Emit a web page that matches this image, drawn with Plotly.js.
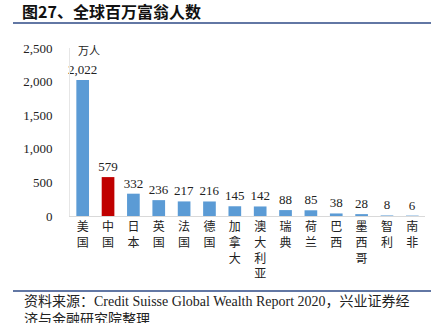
<!DOCTYPE html>
<html><head><meta charset="utf-8">
<script src="https://cdn.plot.ly/plotly-3.0.1.min.js"></script>
<style>html,body{margin:0;padding:0;background:#fff;}#c{width:431px;height:323px;}</style>
</head><body><div id="c"></div>
<script>
const countries = ["美国","中国","日本","英国","法国","德国","加拿大","澳大利亚","瑞典","荷兰","巴西","墨西哥","智利","南非"];
const values = [2022,579,332,236,217,216,145,142,88,85,38,28,8,6];
const labels = ["2,022","579","332","236","217","216","145","142","88","85","38","28","8","6"];
const yTicks = [0,500,1000,1500,2000,2500];
const yTickText = ["0","500","1,000","1,500","2,000","2,500"];

const W=431,H=323,L=70,R=6,T=48,B=107;
const pw=W-L-R, ph=H-T-B;
const px=x=>(x-L)/pw, py=y=>(H-B-y)/ph;

const colors = countries.map(c=>c==="中国"?"#C00000":"#5B9BD5");
const tickText = countries.map(c=>c.split("").join("<br>"));

const trace = {
  type:"bar", x:countries, y:values, marker:{color:colors},
  width:0.5, text:labels, textposition:"outside", cliponaxis:false, constraintext:"none",
  textfont:{family:"Liberation Serif, Times New Roman, serif", size:13, color:"#222"},
  hoverinfo:"none"
};
const layout = {
  width:W, height:H, margin:{l:L,r:R,t:T,b:B},
  paper_bgcolor:"#fff", plot_bgcolor:"#fff", showlegend:false,
  title:{text:"<b>图27、全球百万富翁人数</b>", xref:"container", yref:"container",
    x:22/W, xanchor:"left", y:1-12/H, yanchor:"middle",
    font:{family:"Noto Sans CJK SC, sans-serif", size:16, color:"#111"}},
  xaxis:{type:"category", tickvals:countries, ticktext:tickText, showline:true, linecolor:"#d9d9d9",
    linewidth:1, ticks:"", showgrid:false, zeroline:false, tickangle:0,
    tickfont:{family:"Noto Sans CJK SC, serif", size:12, color:"#222"}},
  yaxis:{range:[0,2500], tickvals:yTicks, ticktext:yTickText, showgrid:false, zeroline:false,
    showline:true, linecolor:"#e6e6e6", ticks:"", ticklabelstandoff:14,
    tickfont:{family:"Liberation Serif, Times New Roman, serif", size:13, color:"#222"}},
  shapes:[
    {type:"line", xref:"paper", yref:"paper", x0:px(13), x1:px(431), y0:py(23), y1:py(23), line:{color:"#2E4A86", width:1.5}},
    {type:"line", xref:"paper", yref:"paper", x0:px(13), x1:px(431), y0:py(291), y1:py(291), line:{color:"#2E4A86", width:1.5}}
  ],
  annotations:[
    {text:"万人", xref:"paper", yref:"paper", x:px(89), y:py(50), xanchor:"center", yanchor:"middle", showarrow:false,
      font:{family:"Noto Sans CJK SC, serif", size:11, color:"#222"}},
    {text:"资料来源：Credit Suisse Global Wealth Report 2020，兴业证券经<br>济与金融研究院整理", xref:"paper", yref:"paper",
      x:px(22), y:py(292), xanchor:"left", yanchor:"top", align:"left", showarrow:false,
      font:{family:"Liberation Serif, Noto Sans CJK SC, serif", size:14, color:"#222"}}
  ]
};
Plotly.newPlot("c",[trace],layout,{displayModeBar:false,staticPlot:true});
</script></body></html>
